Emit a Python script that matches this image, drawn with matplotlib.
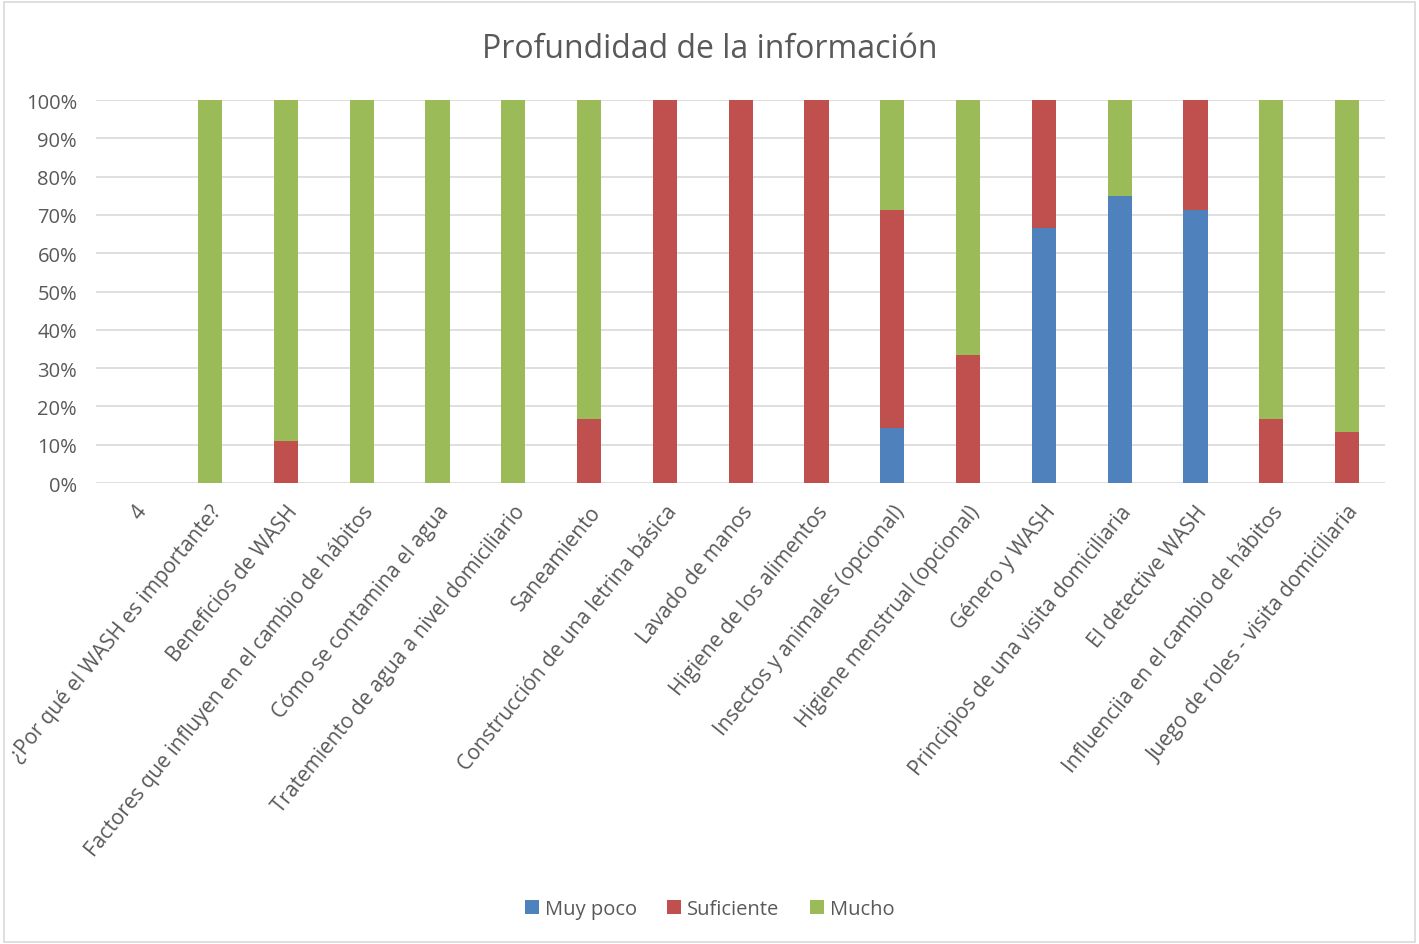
import matplotlib
matplotlib.use("Agg")
import matplotlib.pyplot as plt
import numpy as np
from matplotlib.ticker import PercentFormatter
from matplotlib.patches import Rectangle

categories = [
    "4",
    "¿Por qué el WASH es importante?",
    "Beneficios de WASH",
    "Factores que influyen en el cambio de hábitos",
    "Cómo se contamina el agua",
    "Tratemiento de agua a nivel domiciliario",
    "Saneamiento",
    "Construcción de una letrina básica",
    "Lavado de manos",
    "Higiene de los alimentos",
    "Insectos y animales (opcional)",
    "Higiene menstrual (opcional)",
    "Género y WASH",
    "Principios de una visita domiciliaria",
    "El detective WASH",
    "Influenciia en el cambio de hábitos",
    "Juego de roles - visita domiciliaria",
]
muy_poco   = [0, 0, 0,    0, 0, 0, 0,    0,   0,   0,   14.3, 0,    66.7, 75, 71.4, 0,    0]
suficiente = [0, 0, 11.1, 0, 0, 0, 16.7, 100, 100, 100, 57.1, 33.3, 33.3, 0,  28.6, 16.7, 13.3]
mucho      = [0, 100, 88.9, 100, 100, 100, 83.3, 0, 0, 0, 28.6, 66.7, 0, 25, 0, 83.3, 86.7]

series_names = ["Muy poco", "Suficiente", "Mucho"]
colors = ["#4F81BD", "#C0504D", "#9BBB59"]

plt.rcParams['font.family'] = ['Open Sans', 'DejaVu Sans']
txt = "#595959"

fig = plt.figure(figsize=(14.19, 9.45), dpi=100)
ax = fig.add_axes([0.068, 0.4878, 0.908, 0.4053])

x = np.arange(len(categories))
bottom = np.zeros(len(categories))
for vals, name, c in zip([muy_poco, suficiente, mucho], series_names, colors):
    v = np.array(vals, dtype=float)
    ax.bar(x, v, 0.32, bottom=bottom, color=c, label=name, zorder=3)
    bottom += v

ax.set_ylim(0, 100)
ax.set_xlim(-0.5, len(categories) - 0.5)
ax.set_yticks(np.arange(0, 101, 10))
ax.yaxis.set_major_formatter(PercentFormatter(decimals=0))
ax.grid(axis='y', color='#D9D9D9', linewidth=1.2, zorder=0)
for s in ax.spines.values():
    s.set_visible(False)
ax.tick_params(axis='y', length=0, colors=txt, labelsize=14.5, pad=14)
ax.tick_params(axis='x', length=0, colors=txt, labelsize=15, pad=13)
ax.set_xticks(x)
ax.set_xticklabels(categories, rotation=51, ha='right', rotation_mode='anchor', color=txt)

fig.suptitle("Profundidad de la información", y=0.965, fontsize=23, color=txt)

leg = fig.legend(loc='center', bbox_to_anchor=(0.5, 0.037), ncol=3, frameon=False,
                 fontsize=14.5, handlelength=0.7, handleheight=0.7, handletextpad=0.3,
                 columnspacing=1.5, labelcolor=txt)

fig.patches.append(Rectangle((0.003, 0.002), 0.994, 0.995, transform=fig.transFigure,
                             fill=False, edgecolor='#D9D9D9', linewidth=1.2))

fig.savefig("out.png", dpi=100)
